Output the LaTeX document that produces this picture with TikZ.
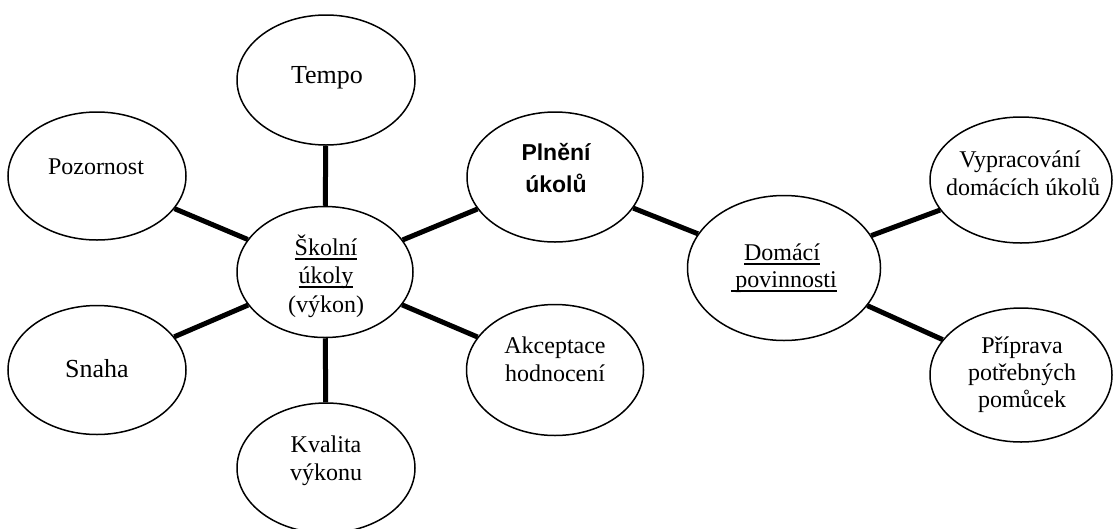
\documentclass[tikz,border=0pt]{standalone}
\usepackage{fontspec}
\setmainfont{Liberation Serif}
\newfontfamily\boldsans{Liberation Sans}
\usetikzlibrary{shapes.geometric}
\newcommand{\ulx}[1]{\setbox0\hbox{#1}\rlap{\vrule height -3pt depth 4.6pt width \wd0}\box0}
\tikzset{
  oval/.style={draw, ellipse, line width=1.5pt, inner sep=0pt},
  conn/.style={line width=5pt},
  lbl/.style={anchor=base, inner sep=0pt, font=\fontsize{24}{28}\selectfont},
  lblbig/.style={anchor=base, inner sep=0pt, font=\fontsize{26}{28}\selectfont},
  lblbold/.style={anchor=base, inner sep=0pt, font=\boldsans\bfseries\fontsize{23}{32}\selectfont}
}
\begin{document}
\begin{tikzpicture}[x=1pt, y=-1pt]
\useasboundingbox (0,0) rectangle (1116,528);
% ellipses
\node[oval, minimum width=178pt, minimum height=130pt] (tempo) at (326,80) {};
\node[oval, minimum width=178pt, minimum height=128pt] (poz) at (97,176) {};
\node[oval, minimum width=176pt, minimum height=131pt] (skol) at (325,272) {};
\node[oval, minimum width=178pt, minimum height=129pt] (snaha) at (97,370) {};
\node[oval, minimum width=178pt, minimum height=130pt] (kval) at (326,468) {};
\node[oval, minimum width=176pt, minimum height=130pt] (plne) at (555,177) {};
\node[oval, minimum width=177pt, minimum height=131pt] (akc) at (555,370) {};
\node[oval, minimum width=193pt, minimum height=145pt] (dom) at (784,268) {};
\node[oval, minimum width=182pt, minimum height=126pt] (vyp) at (1021,180) {};
\node[oval, minimum width=182pt, minimum height=134pt] (prip) at (1021,375) {};
% connectors
\draw[conn] (tempo) -- (skol);
\draw[conn] (poz) -- (skol);
\draw[conn] (snaha) -- (skol);
\draw[conn] (kval) -- (skol);
\draw[conn] (plne) -- (skol);
\draw[conn] (akc) -- (skol);
\draw[conn] (plne) -- (dom);
\draw[conn] (dom) -- (vyp);
\draw[conn] (dom) -- (prip);
% texts
\node[lblbig] (tempo-t) at (327,83) {Tempo};
\node[lbl] (poz-t) at (96,174) {Pozornost};
\node[lblbig] (snaha-t) at (97,377) {Snaha};
\node[lbl] (skol-t1) at (326,255) {\ulx{Školní}};
\node[lbl] (skol-t2) at (326,283) {\ulx{úkoly}};
\node[lbl] (skol-t3) at (326,312) {(výkon)};
\node[lbl] (kval-t1) at (326,452) {Kvalita};
\node[lbl] (kval-t2) at (326,480) {výkonu};
\node[lblbold] (plne-t1) at (556,160) {Plnění};
\node[lblbold] (plne-t2) at (556,192) {úkolů};
\node[lbl] (akc-t1) at (555,353) {Akceptace};
\node[lbl] (akc-t2) at (555,381) {hodnocení};
\node[lbl] (dom-t1) at (782,260) {\ulx{Domácí}};
\node[lbl] (dom-t2) at (784,287) {\ulx{\,povinnosti}};
\node[lbl] (vyp-t1) at (1020,167) {Vypracování};
\node[lbl] (vyp-t2) at (1023,195) {domácích úkolů};
\node[lbl] (prip-t1) at (1022,353) {Příprava};
\node[lbl] (prip-t2) at (1022,380) {potřebných};
\node[lbl] (prip-t3) at (1022,407) {pomůcek};
\end{tikzpicture}
\end{document}
